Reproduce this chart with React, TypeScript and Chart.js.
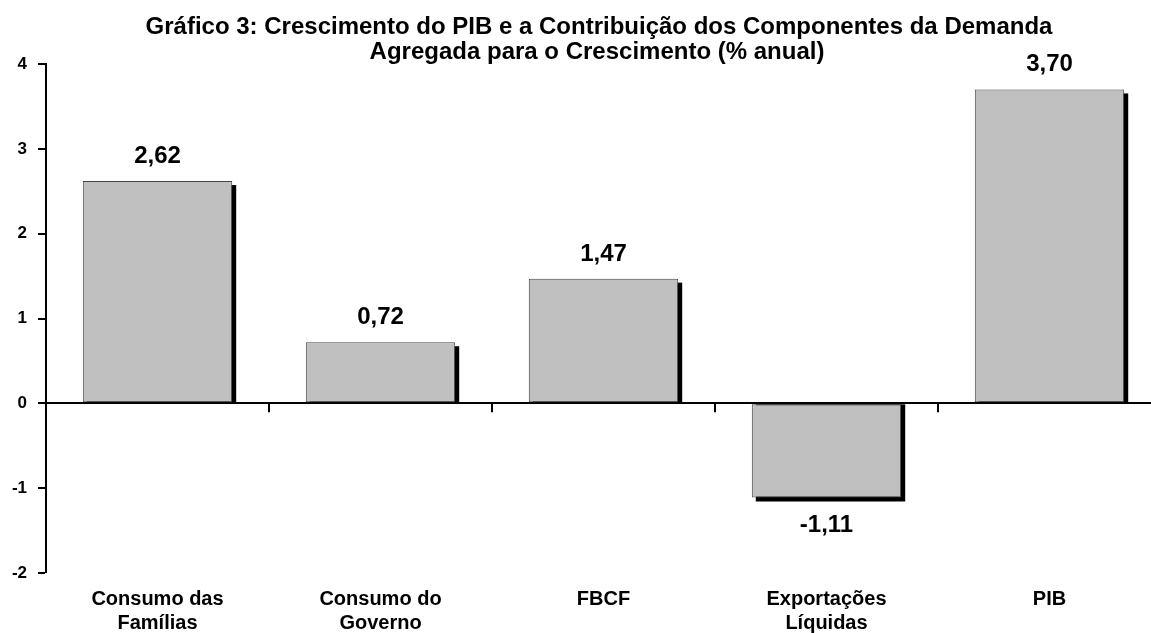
import React, { useEffect, useRef } from "react";
import { Chart, registerables } from "chart.js";

Chart.register(...registerables);

const TITLE_LINES = [
  "Gráfico 3: Crescimento do PIB e a Contribuição dos Componentes da Demanda",
  "Agregada para o Crescimento (% anual)",
];
const CATEGORIES: string[][] = [
  ["Consumo das", "Famílias"],
  ["Consumo do", "Governo"],
  ["FBCF"],
  ["Exportações", "Líquidas"],
  ["PIB"],
];
const VALUES = [2.62, 0.72, 1.47, -1.11, 3.7];
const Y_MIN = -2;
const Y_MAX = 4;
const Y_STEP = 1;

const FONT = "'Liberation Sans', Arial, sans-serif";

const shadowPlugin = {
  id: "barShadow",
  beforeDatasetsDraw(chart: any) {
    const ctx = chart.ctx;
    const meta = chart.getDatasetMeta(0);
    ctx.save();
    ctx.fillStyle = "#000";
    meta.data.forEach((bar: any) => {
      const { x, y, base, width } = bar.getProps(["x", "y", "base", "width"], true);
      const left = x - width / 2 + 4;
      if (y <= base) {
        ctx.fillRect(left, y + 4, width, base - y - 4);
      } else {
        ctx.fillRect(left, base, width, y - base + 4);
      }
    });
    ctx.restore();
  },
};

const labelPlugin = {
  id: "valueLabels",
  afterDatasetsDraw(chart: any) {
    const ctx = chart.ctx;
    const meta = chart.getDatasetMeta(0);
    ctx.save();
    ctx.font = `bold 24px ${FONT}`;
    ctx.fillStyle = "#000";
    ctx.textAlign = "center";
    ctx.textBaseline = "alphabetic";
    meta.data.forEach((bar: any, i: number) => {
      const v = VALUES[i];
      const { x, y } = bar.getProps(["x", "y"], true);
      const txt = v.toFixed(2).replace(".", ",");
      if (v >= 0) ctx.fillText(txt, x, y - 18);
      else ctx.fillText(txt, x, y + 35);
    });
    ctx.restore();
  },
};

const decorPlugin = {
  id: "decor",
  afterDraw(chart: any) {
    const ctx = chart.ctx;
    const area = chart.chartArea;
    const yScale = chart.scales.y;
    const zeroY = yScale.getPixelForValue(0);
    const n = CATEGORIES.length;
    const cw = (area.right - area.left) / n;
    ctx.save();
    ctx.strokeStyle = "#000";
    ctx.lineWidth = 2;
    for (let i = 1; i < n; i++) {
      const x = Math.round(area.left + i * cw);
      ctx.beginPath();
      ctx.moveTo(x, zeroY);
      ctx.lineTo(x, zeroY + 9);
      ctx.stroke();
    }
    ctx.font = `bold 24px ${FONT}`;
    ctx.fillStyle = "#000";
    ctx.textAlign = "center";
    ctx.textBaseline = "alphabetic";
    ctx.fillText(TITLE_LINES[0], 599, 34);
    ctx.fillText(TITLE_LINES[1], 597, 59);
    ctx.restore();
  },
};

export default function App() {
  const ref = useRef<HTMLCanvasElement>(null);
  useEffect(() => {
    if (!ref.current) return;
    const chart = new Chart(ref.current, {
      type: "bar",
      data: {
        labels: CATEGORIES,
        datasets: [
          {
            data: VALUES,
            backgroundColor: "#c0c0c0",
            borderColor: "#444",
            borderWidth: 1,
            borderSkipped: false,
            barPercentage: 0.67,
            categoryPercentage: 1,
          },
        ],
      },
      options: {
        responsive: false,
        animation: false,
        devicePixelRatio: 1,
        layout: { padding: { top: 64, left: 0, right: 0, bottom: 0 } },
        plugins: {
          legend: { display: false },
          title: { display: false },
          tooltip: { enabled: false },
        },
        scales: {
          x: {
            offset: true,
            grid: { display: false, drawTicks: false },
            border: { display: false },
            ticks: {
              color: "#000",
              font: { family: FONT, size: 20, weight: "bold", lineHeight: 1.2 },
              padding: 14,
              maxRotation: 0,
              autoSkip: false,
            },
            afterFit(scale: any) {
              scale.height = 60;
            },
          },
          y: {
            min: Y_MIN,
            max: Y_MAX,
            ticks: {
              stepSize: Y_STEP,
              color: "#000",
              font: { family: FONT, size: 17, weight: "bold" },
              padding: 11,
            },
            grid: {
              drawOnChartArea: true,
              drawTicks: true,
              tickLength: 8,
              tickColor: "#000",
              tickWidth: 2,
              color: (c: any) => (c.tick && c.tick.value === 0 ? "#000" : "rgba(0,0,0,0)"),
              lineWidth: (c: any) => (c.tick && c.tick.value === 0 ? 2 : 0),
            },
            border: { display: true, color: "#000", width: 2 },
            afterFit(scale: any) {
              scale.width = 46;
            },
          },
        },
      },
      plugins: [shadowPlugin, labelPlugin, decorPlugin],
    });
    return () => chart.destroy();
  }, []);
  return (
    <div
      style={{
        position: "fixed",
        left: 0,
        top: 0,
        width: 1151,
        height: 633,
        overflow: "hidden",
        background: "#fff",
      }}
    >
      <canvas ref={ref} width={1161} height={633} style={{ display: "block" }} />
    </div>
  );
}
